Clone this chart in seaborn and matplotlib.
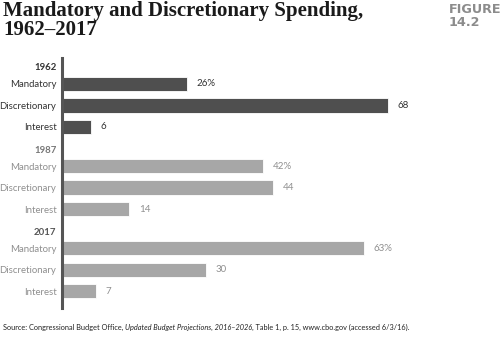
import matplotlib
matplotlib.use("Agg")
import matplotlib.pyplot as plt
import seaborn as sns
import pandas as pd
import numpy as np

years = ["1962", "1987", "2017"]
categories = ["Mandatory", "Discretionary", "Interest"]
shares_1962 = [26, 68, 6]
shares_1987 = [42, 44, 14]
shares_2017 = [63, 30, 7]
value_labels_1962 = ["26%", "68", "6"]
value_labels_1987 = ["42%", "44", "14"]
value_labels_2017 = ["63%", "30", "7"]
title = "Mandatory and Discretionary Spending,\n1962–2017"
source = "Source: Congressional Budget Office, "
source_italic = "Updated Budget Projections, 2016–2026"
source_tail = ", Table 1, p. 15, www.cbo.gov (accessed 6/3/16)."

sns.set_theme(style="white")
plt.rcParams["font.family"] = ["Lato", "DejaVu Sans"]

# Layout of rows: a year header followed by its three category bars
BLOCK_STEP = 4.05
HEADER_GAP = 0.84
BAR_STEP = 1.06

rows = []
for k, (yr, vals, labs) in enumerate(zip(years,
                                         [shares_1962, shares_1987, shares_2017],
                                         [value_labels_1962, value_labels_1987, value_labels_2017])):
    base = k * BLOCK_STEP
    rows.append(dict(pos=base, label=yr, year=yr, share=np.nan, text="", header=True))
    for j, (cat, v, t) in enumerate(zip(categories, vals, labs)):
        rows.append(dict(pos=base + HEADER_GAP + j * BAR_STEP, label=cat, year=yr,
                         share=v, text=t, header=False))
df = pd.DataFrame(rows)
bars = df[~df["header"]]

bar_colors = {"1962": "#4f4f4f", "1987": "#a7a7a7", "2017": "#a7a7a7"}
text_colors = {"1962": "#333333", "1987": "#8f8f8f", "2017": "#8f8f8f"}
header_colors = {"1962": "#333333", "1987": "#777777", "2017": "#555555"}

fig = plt.figure(figsize=(5.0, 3.37), dpi=100)
ax = fig.add_axes([0.124, 0.086, 0.776, 0.742])

sns.barplot(data=bars, x="share", y="pos", hue="year", palette=bar_colors,
            orient="h", native_scale=True, width=0.66, dodge=False,
            legend=False, ax=ax, edgecolor="white", linewidth=0.6)

ax.set_xlim(0, 81)
ax.set_ylim(11.89, -0.44)
ax.set_xlabel("")
ax.set_ylabel("")
ax.set_xticks([])
ax.set_yticks(df["pos"])
ax.set_yticklabels(df["label"])
ax.tick_params(axis="y", length=0, pad=4)
for tl, (_, r) in zip(ax.get_yticklabels(), df.iterrows()):
    if r["header"]:
        tl.set_fontweight("bold")
        tl.set_color(header_colors[r["year"]])
    else:
        tl.set_color(text_colors[r["year"]])
    tl.set_fontsize(6.9)

for side in ["top", "right", "bottom"]:
    ax.spines[side].set_visible(False)
ax.spines["left"].set_color("#555555")
ax.spines["left"].set_linewidth(2.2)

for _, r in bars.iterrows():
    ax.annotate(r["text"], (r["share"], r["pos"]), xytext=(7, 0), textcoords="offset points",
                va="center", ha="left", fontsize=7, color=text_colors[r["year"]])

fig.text(0.006, 0.997, title, ha="left", va="top", fontsize=15, fontweight="bold",
         family=["Liberation Serif", "DejaVu Serif"], color="#1a1a1a", linespacing=0.95)
fig.text(0.897, 0.992, "FIGURE\n14.2", ha="left", va="top", fontsize=9.2,
         fontweight="bold", color="#8c8c8c", linespacing=1.05,
         family=["DejaVu Sans"])

ys = 0.018
t1 = fig.text(0.006, ys, source, fontsize=5.35, color="#222222", va="bottom")
fig.canvas.draw()
bb = t1.get_window_extent()
t2 = fig.text(bb.x1 / fig.bbox.width, ys, source_italic, fontsize=5.35, color="#222222",
              va="bottom", style="italic")
fig.canvas.draw()
bb2 = t2.get_window_extent()
fig.text(bb2.x1 / fig.bbox.width, ys, source_tail, fontsize=5.35, color="#222222", va="bottom")

fig.savefig("out.png", dpi=100)
